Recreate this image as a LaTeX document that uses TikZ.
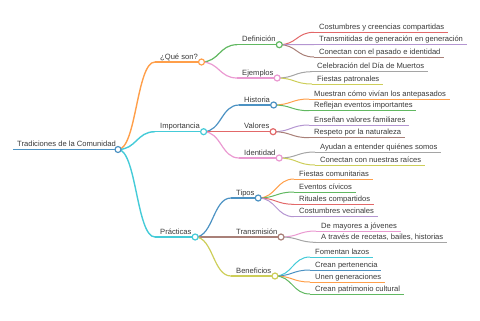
\documentclass[tikz,border=0pt]{standalone}
\usepackage{fontspec}
\setmainfont{Liberation Sans}
\usetikzlibrary{calc}
\definecolor{k0}{HTML}{1F77B4}
\definecolor{k1}{HTML}{FF7F0E}
\definecolor{k2}{HTML}{2CA02C}
\definecolor{k3}{HTML}{D62728}
\definecolor{k4}{HTML}{9467BD}
\definecolor{k5}{HTML}{8C564B}
\definecolor{k6}{HTML}{E377C2}
\definecolor{k7}{HTML}{7F7F7F}
\definecolor{k8}{HTML}{BCBD22}
\definecolor{k9}{HTML}{17BECF}
\colorlet{c0}{k0!80!white}
\colorlet{c1}{k1!75!white}
\colorlet{c2}{k2!75!white}
\colorlet{c3}{k3!70!white}
\colorlet{c4}{k4!70!white}
\colorlet{c5}{k5!75!white}
\colorlet{c6}{k6!75!white}
\colorlet{c7}{k7!70!white}
\colorlet{c8}{k8!75!white}
\colorlet{c9}{k9!80!white}
\definecolor{txtc}{HTML}{3A3A3A}
\tikzset{
  txt/.style={inner sep=0pt, text=txtc, font=\fontsize{7.6bp}{9bp}\selectfont},
  dot/.style={fill=white}
}
% name, x, line y, text
\newcommand{\mk}[4]{%
  \node[txt, anchor=base west] (#1) at (#2,#3-3) {#4};
  \coordinate (#1-s) at (#2-5,#3);
  \coordinate (#1-e) at ($(#1.base east)+(3.5,3)$);
}
% color, width, from, to
\newcommand{\lnk}[4]{%
  \draw[#1, line width=#2] let \p1=(#3), \p2=(#4) in (#3) .. controls ({(\x1+\x2)/2},\y1) and ({(\x1+\x2)/2},\y2) .. (#4);
}
% color, width, node
\newcommand{\ul}[3]{\draw[#1, line width=#2] (#3-s) -- (#3-e);}
\newcommand{\dotc}[3]{\draw[#1, line width=#2, dot] (#3-e) circle (3);}
\begin{document}
\begin{tikzpicture}[x=1bp, y=-1bp]
\useasboundingbox (0,0) rectangle (480,320);
% nodes
\node[txt, anchor=base west] (root) at (17,146.5) {Tradiciones de la Comunidad};
\coordinate (root-s) at (13,149.5);
\coordinate (root-e) at (118,149.5);
\mk{q}{160}{62}{¿Qué son?}
\mk{imp}{160}{131.7}{Importancia}
\mk{pra}{160}{237}{Prácticas}
\mk{def}{242}{44.7}{Definición}
\mk{eje}{242}{78}{Ejemplos}
\mk{his}{244}{105}{Historia}
\mk{val}{244}{131.7}{Valores}
\mk{ide}{244}{158}{Identidad}
\mk{tip}{236}{198}{Tipos}
\mk{tra}{236}{237}{Transmisión}
\mk{ben}{236}{276}{Beneficios}
\mk{d1}{319}{32.3}{Costumbres y creencias compartidas}
\mk{d2}{319}{44.5}{Transmitidas de generación en generación}
\mk{d3}{319}{57}{Conectan con el pasado e identidad}
\mk{e1}{317}{71.7}{Celebración del Día de Muertos}
\mk{e2}{317}{84}{Fiestas patronales}
\mk{h1}{314}{99}{Muestran cómo vivían los antepasados}
\mk{h2}{314}{110.7}{Reflejan eventos importantes}
\mk{v1}{314}{125}{Enseñan valores familiares}
\mk{v2}{314}{137.7}{Respeto por la naturaleza}
\mk{i1}{320}{152}{Ayudan a entender quiénes somos}
\mk{i2}{320}{165}{Conectan con nuestras raíces}
\mk{t1}{299}{179}{Fiestas comunitarias}
\mk{t2}{299}{192}{Eventos cívicos}
\mk{t3}{299}{204.3}{Rituales compartidos}
\mk{t4}{299}{216.7}{Costumbres vecinales}
\mk{r1}{321}{231}{De mayores a jóvenes}
\mk{r2}{321}{242.3}{A través de recetas, bailes, historias}
\mk{b1}{315}{257}{Fomentan lazos}
\mk{b2}{315}{270}{Crean pertenencia}
\mk{b3}{315}{282}{Unen generaciones}
\mk{b4}{315}{294}{Crean patrimonio cultural}
% links level 1
\lnk{c1}{1.4bp}{root-e}{q-s}
\lnk{c9}{1.4bp}{root-e}{imp-s}
\lnk{c9}{1.4bp}{root-e}{pra-s}
% links level 2
\lnk{c2}{1.2bp}{q-e}{def-s}
\lnk{c6}{1.2bp}{q-e}{eje-s}
\lnk{c0}{1.2bp}{imp-e}{his-s}
\lnk{c3}{1.2bp}{imp-e}{val-s}
\lnk{c6}{1.2bp}{imp-e}{ide-s}
\lnk{c0}{1.2bp}{pra-e}{tip-s}
\lnk{c5}{1.2bp}{pra-e}{tra-s}
\lnk{c8}{1.2bp}{pra-e}{ben-s}
% links level 3
\lnk{c3}{1bp}{def-e}{d1-s}
\lnk{c4}{1bp}{def-e}{d2-s}
\lnk{c5}{1bp}{def-e}{d3-s}
\lnk{c7}{1bp}{eje-e}{e1-s}
\lnk{c8}{1bp}{eje-e}{e2-s}
\lnk{c1}{1bp}{his-e}{h1-s}
\lnk{c2}{1bp}{his-e}{h2-s}
\lnk{c4}{1bp}{val-e}{v1-s}
\lnk{c5}{1bp}{val-e}{v2-s}
\lnk{c7}{1bp}{ide-e}{i1-s}
\lnk{c8}{1bp}{ide-e}{i2-s}
\lnk{c1}{1bp}{tip-e}{t1-s}
\lnk{c2}{1bp}{tip-e}{t2-s}
\lnk{c3}{1bp}{tip-e}{t3-s}
\lnk{c4}{1bp}{tip-e}{t4-s}
\lnk{c6}{1bp}{tra-e}{r1-s}
\lnk{c7}{1bp}{tra-e}{r2-s}
\lnk{c9}{1bp}{ben-e}{b1-s}
\lnk{c0}{1bp}{ben-e}{b2-s}
\lnk{c1}{1bp}{ben-e}{b3-s}
\lnk{c2}{1bp}{ben-e}{b4-s}
% underlines
\ul{c0}{1.8bp}{root}
\ul{c1}{1.4bp}{q}
\ul{c9}{1.4bp}{imp}
\ul{c9}{1.4bp}{pra}
\ul{c2}{1.2bp}{def}
\ul{c6}{1.2bp}{eje}
\ul{c0}{1.2bp}{his}
\ul{c3}{1.2bp}{val}
\ul{c6}{1.2bp}{ide}
\ul{c0}{1.2bp}{tip}
\ul{c5}{1.2bp}{tra}
\ul{c8}{1.2bp}{ben}
\ul{c3}{1bp}{d1}
\ul{c4}{1bp}{d2}
\ul{c5}{1bp}{d3}
\ul{c7}{1bp}{e1}
\ul{c8}{1bp}{e2}
\ul{c1}{1bp}{h1}
\ul{c2}{1bp}{h2}
\ul{c4}{1bp}{v1}
\ul{c5}{1bp}{v2}
\ul{c7}{1bp}{i1}
\ul{c8}{1bp}{i2}
\ul{c1}{1bp}{t1}
\ul{c2}{1bp}{t2}
\ul{c3}{1bp}{t3}
\ul{c4}{1bp}{t4}
\ul{c6}{1bp}{r1}
\ul{c7}{1bp}{r2}
\ul{c9}{1bp}{b1}
\ul{c0}{1bp}{b2}
\ul{c1}{1bp}{b3}
\ul{c2}{1bp}{b4}
% circles
\dotc{c0}{1.2bp}{root}
\dotc{c1}{1.2bp}{q}
\dotc{c9}{1.2bp}{imp}
\dotc{c9}{1.2bp}{pra}
\dotc{c2}{1.2bp}{def}
\dotc{c6}{1.2bp}{eje}
\dotc{c0}{1.2bp}{his}
\dotc{c3}{1.2bp}{val}
\dotc{c6}{1.2bp}{ide}
\dotc{c0}{1.2bp}{tip}
\dotc{c5}{1.2bp}{tra}
\dotc{c8}{1.2bp}{ben}
\end{tikzpicture}
\end{document}
